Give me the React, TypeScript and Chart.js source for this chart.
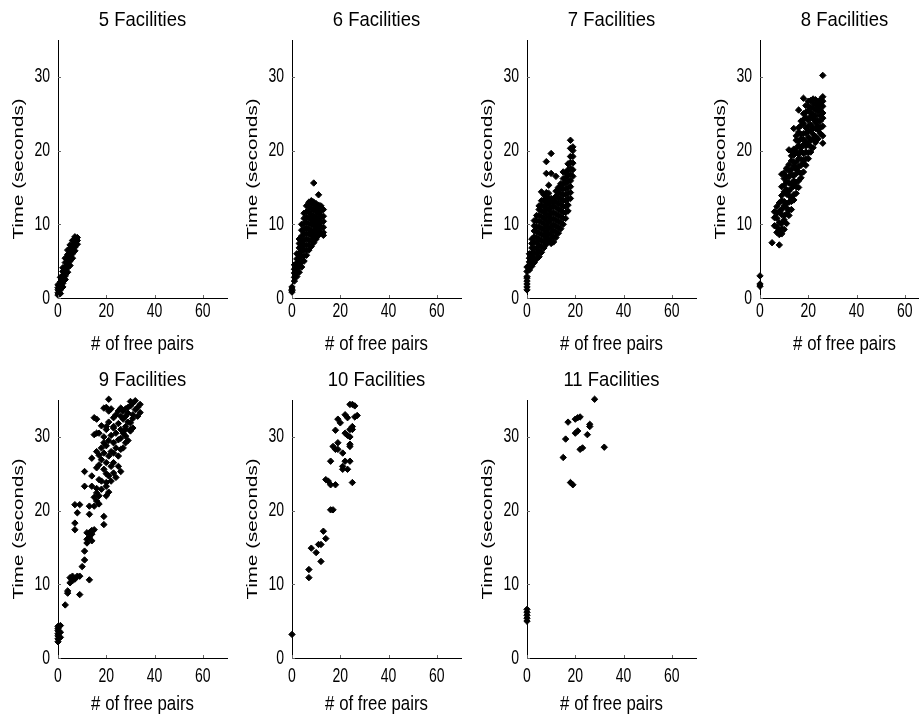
import React, { useEffect, useRef } from 'react';
import { Chart, registerables } from 'chart.js';

Chart.register(...registerables);

// ---------- data ----------
const panelTitles = ['5 Facilities', '6 Facilities', '7 Facilities', '8 Facilities', '9 Facilities', '10 Facilities', '11 Facilities'];
const xAxisTitle = '# of free pairs';
const yAxisTitle = 'Time (seconds)';
const xTickValues = [0, 20, 40, 60];
const yTickValues = [0, 10, 20, 30];
const xLimits = [0, 70];
const yLimits = [0, 35];

type Pt = [number, number];

const fac5: Pt[] = [
  [0, 0.4], [0, 0.7], [0, 1.1], [0, 1.4], [0, 1.8],
  [1, 0.6], [1, 1.1], [1, 1.7], [1, 2.2], [1, 2.8],
  [2, 1.5], [2, 2.0], [2, 2.6], [2, 3.1], [2, 3.6], [2, 4.1],
  [3, 2.5], [3, 3.0], [3, 3.6], [3, 4.2], [3, 4.8], [3, 5.4],
  [4, 3.5], [4, 4.1], [4, 4.6], [4, 5.2], [4, 5.9], [4, 6.5],
  [5, 4.4], [5, 5.0], [5, 5.6], [5, 6.1], [5, 6.7], [5, 7.2],
  [6, 5.4], [6, 6.0], [6, 6.5], [6, 7.1], [6, 7.8],
  [7, 6.4], [7, 6.9], [7, 7.5], [7, 8.0], [7, 8.3],
  [8, 7.3], [8, 7.8], [8, 8.2],
];

const fac6: Pt[] = [
  [0, 0.8], [0, 1.0], [0, 1.2], [0, 1.5],
  [1, 2.3], [1, 2.8], [1, 3.4], [1, 3.9], [1, 4.5],
  [2, 2.9], [2, 3.5], [2, 4.1], [2, 4.7], [2, 5.3], [2, 6.0],
  [3, 3.5], [3, 4.2], [3, 4.8], [3, 5.5], [3, 6.1], [3, 6.8], [3, 7.4], [3, 8.0],
  [4, 4.2], [4, 4.9], [4, 5.6], [4, 6.3], [4, 7.0], [4, 7.7], [4, 8.4], [4, 9.2], [4, 10.0],
  [5, 5.0], [5, 5.7], [5, 6.5], [5, 7.2], [5, 7.9], [5, 8.7], [5, 9.4], [5, 10.1], [5, 10.8], [5, 11.5],
  [6, 5.8], [6, 6.5], [6, 7.2], [6, 8.0], [6, 8.7], [6, 9.4], [6, 10.2], [6, 10.9], [6, 11.7], [6, 12.5],
  [7, 6.5], [7, 7.2], [7, 7.9], [7, 8.7], [7, 9.4], [7, 10.1], [7, 10.9], [7, 11.6], [7, 12.3], [7, 13.0],
  [8, 7.0], [8, 7.8], [8, 8.5], [8, 9.2], [8, 10.0], [8, 10.7], [8, 11.4], [8, 12.1], [8, 12.8], [8, 13.2],
  [9, 7.5], [9, 8.3], [9, 9.0], [9, 9.8], [9, 10.5], [9, 11.2], [9, 12.0], [9, 12.7], [9, 13.0], [9, 15.6],
  [10, 8.0], [10, 8.8], [10, 9.5], [10, 10.3], [10, 11.0], [10, 11.8], [10, 12.4], [10, 12.8],
  [11, 8.5], [11, 9.3], [11, 10.0], [11, 10.8], [11, 11.5], [11, 12.2], [11, 12.6], [11, 14.0],
  [12, 8.8], [12, 9.6], [12, 10.3], [12, 11.1], [12, 11.8], [12, 12.5],
  [13, 8.5], [13, 8.9], [13, 9.6], [13, 10.4], [13, 11.1], [13, 12.0],
];

const fac7: Pt[] = [
  [0, 1.1], [0, 1.5], [0, 1.9], [0, 2.3], [0, 2.7], [0, 2.9], [0, 3.6], [0, 4.2],
  [1, 3.8], [1, 4.3], [1, 4.9], [1, 5.4], [1, 6.0],
  [2, 4.3], [2, 4.9], [2, 5.5], [2, 6.1], [2, 6.8], [2, 7.4], [2, 8.0],
  [3, 4.8], [3, 5.4], [3, 6.1], [3, 6.8], [3, 7.6], [3, 8.3], [3, 9.1], [3, 9.8], [3, 10.5],
  [4, 5.3], [4, 6.0], [4, 6.7], [4, 7.5], [4, 8.2], [4, 9.0], [4, 9.7], [4, 10.5], [4, 11.2],
  [5, 5.6], [5, 6.4], [5, 7.2], [5, 8.0], [5, 8.8], [5, 9.6], [5, 10.4], [5, 11.2], [5, 12.0], [5, 12.5],
  [6, 6.2], [6, 7.0], [6, 7.8], [6, 8.6], [6, 9.4], [6, 10.3], [6, 11.1], [6, 11.9], [6, 12.6], [6, 13.2], [6, 14.4],
  [7, 6.8], [7, 7.6], [7, 8.4], [7, 9.2], [7, 10.0], [7, 10.9], [7, 11.7], [7, 12.5], [7, 13.3], [7, 14.0],
  [8, 7.3], [8, 8.1], [8, 8.9], [8, 9.7], [8, 10.5], [8, 11.4], [8, 12.2], [8, 13.0], [8, 13.7], [8, 14.3], [8, 16.9], [8, 18.5],
  [9, 7.8], [9, 8.6], [9, 9.4], [9, 10.2], [9, 11.0], [9, 11.9], [9, 12.7], [9, 13.5], [9, 14.2], [9, 15.3],
  [10, 7.4], [10, 8.1], [10, 8.9], [10, 9.7], [10, 10.6], [10, 11.4], [10, 12.2], [10, 13.0], [10, 13.5], [10, 16.9], [10, 19.6],
  [11, 7.6], [11, 8.4], [11, 9.2], [11, 10.0], [11, 10.8], [11, 11.6], [11, 12.4], [11, 13.0], [11, 13.5],
  [12, 8.2], [12, 9.0], [12, 9.8], [12, 10.6], [12, 11.4], [12, 12.3], [12, 13.1], [12, 13.8], [12, 14.5], [12, 16.5],
  [13, 8.8], [13, 9.6], [13, 10.4], [13, 11.2], [13, 12.0], [13, 12.8], [13, 13.6], [13, 14.3], [13, 15.0],
  [14, 9.4], [14, 10.2], [14, 11.0], [14, 11.8], [14, 12.6], [14, 13.4], [14, 14.2], [14, 14.9], [14, 15.5],
  [15, 10.0], [15, 10.8], [15, 11.6], [15, 12.4], [15, 13.2], [15, 14.0], [15, 14.8], [15, 15.5], [15, 16.2], [15, 17.1],
  [16, 10.8], [16, 11.6], [16, 12.4], [16, 13.2], [16, 14.0], [16, 14.8], [16, 15.6], [16, 16.3], [16, 17.0],
  [17, 11.8], [17, 12.6], [17, 13.4], [17, 14.2], [17, 15.0], [17, 15.8], [17, 16.6], [17, 17.4], [17, 18.2],
  [18, 13.5], [18, 14.3], [18, 15.1], [18, 15.9], [18, 16.8], [18, 17.6], [18, 18.4], [18, 19.2], [18, 20.3], [18, 21.4],
  [19, 16.5], [19, 17.4], [19, 18.3], [19, 19.2], [19, 20.0], [19, 20.5],
];

const fac8: Pt[] = [
  [0, 1.6], [0, 1.9], [0, 3.0],
  [5, 7.5], [6, 9.8], [6, 10.9], [6, 11.7],
  [7, 8.9], [7, 9.6], [7, 10.8], [7, 11.5], [7, 12.4],
  [8, 7.2], [8, 8.6], [8, 9.1], [8, 10.2], [8, 11.7], [8, 12.9],
  [9, 8.7], [9, 9.4], [9, 10.1], [9, 11.3], [9, 12.0], [9, 13.2], [9, 13.9], [9, 15.1], [9, 16.8],
  [10, 9.3], [10, 10.6], [10, 11.2], [10, 12.5], [10, 13.1], [10, 14.4], [10, 15.3], [10, 16.2], [10, 17.0],
  [11, 10.1], [11, 11.4], [11, 12.2], [11, 12.8], [11, 14.1], [11, 14.7], [11, 15.8], [11, 16.5], [11, 17.6],
  [12, 11.2], [12, 11.9], [12, 13.0], [12, 13.9], [12, 14.5], [12, 15.6], [12, 16.4], [12, 17.3], [12, 18.1], [12, 20.1],
  [13, 12.0], [13, 13.1], [13, 13.6], [13, 14.9], [13, 15.5], [13, 16.8], [13, 17.4], [13, 18.6], [13, 19.3], [13, 19.9],
  [14, 13.3], [14, 14.0], [14, 15.2], [14, 15.9], [14, 16.6], [14, 17.9], [14, 18.5], [14, 19.4], [14, 20.2], [14, 23.0],
  [15, 14.2], [15, 15.1], [15, 15.7], [15, 16.9], [15, 17.5], [15, 18.4], [15, 19.8], [15, 20.3], [15, 21.4], [15, 22.0],
  [16, 15.0], [16, 15.9], [16, 17.1], [16, 17.8], [16, 18.9], [16, 19.5], [16, 20.7], [16, 21.3], [16, 22.5], [16, 23.1], [16, 25.5],
  [17, 16.3], [17, 16.9], [17, 18.0], [17, 18.8], [17, 19.9], [17, 20.4], [17, 21.6], [17, 22.2], [17, 23.4], [17, 24.0],
  [18, 17.1], [18, 18.2], [18, 18.7], [18, 19.6], [18, 20.8], [18, 21.5], [18, 22.3], [18, 23.7], [18, 24.2], [18, 25.0], [18, 27.1],
  [19, 18.0], [19, 18.9], [19, 19.8], [19, 20.6], [19, 21.2], [19, 22.4], [19, 23.1], [19, 24.5], [19, 25.2], [19, 26.1],
  [20, 18.9], [20, 19.7], [20, 20.9], [20, 21.8], [20, 22.6], [20, 23.3], [20, 24.1], [20, 25.4], [20, 26.0], [20, 26.7],
  [21, 19.8], [21, 20.5], [21, 21.4], [21, 22.7], [21, 23.5], [21, 24.6], [21, 25.1], [21, 25.9], [21, 26.8],
  [22, 20.4], [22, 21.6], [22, 22.2], [22, 23.1], [22, 24.3], [22, 24.9], [22, 25.7], [22, 26.5], [22, 27.0],
  [23, 21.1], [23, 21.9], [23, 23.0], [23, 23.8], [23, 24.7], [23, 25.6], [23, 26.2], [23, 26.9],
  [24, 21.6], [24, 22.8], [24, 23.4], [24, 24.1], [24, 25.3], [24, 25.9], [24, 26.6],
  [25, 22.3], [25, 23.1], [25, 24.0], [25, 24.8], [25, 25.5], [25, 26.3], [25, 26.9],
  [26, 21.0], [26, 22.0], [26, 23.3], [26, 24.4], [26, 25.1], [26, 26.0], [26, 26.7], [26, 27.3], [26, 30.2],
];

const fac9: Pt[] = [
  [0, 2.2], [0, 2.6], [0, 3.0], [0, 3.3], [0, 3.7], [0, 4.0], [0, 4.3],
  [1, 2.8], [1, 3.5], [1, 4.4],
  [3, 7.2], [4, 8.8], [4, 9.1], [5, 10.2], [5, 10.9], [6, 10.5], [6, 11.1], [7, 10.7], [8, 11.1],
  [9, 11.1], [9, 8.6], [13, 10.6], [10, 12.4], [11, 13.3], [11, 14.5],
  [12, 16.1], [12, 15.6], [13, 16.4], [13, 17.0], [14, 15.9], [14, 16.8], [15, 17.4], [12, 17.0], [14, 17.3],
  [7, 17.4], [7, 18.3], [7, 20.8], [9, 20.8], [8, 19.7], [11, 23.3], [11, 25.3],
  [13, 19.5], [13, 20.6], [15, 20.6], [16, 21.3], [17, 22.0], [18, 22.9], [16, 22.4], [17, 20.9],
  [19, 19.2], [19, 18.1], [14, 23.3], [14, 24.7], [14, 27.1], [16, 28.0], [15, 32.6], [16, 32.4],
  [16, 30.5], [17, 30.5], [21, 35.1], [19, 33.9], [21, 33.5], [20, 31.0], [20, 31.4], [23, 31.4],
  [23, 32.6], [20, 26.5], [21, 27.4], [19, 29.2], [20, 23.3], [20, 23.8], [21, 24.7], [23, 25.1],
  [23, 26.5], [25, 27.4], [25, 26.0], [26, 25.3], [23, 29.2], [25, 29.6], [26, 31.0], [27, 32.4],
  [28, 32.8], [30, 34.2], [30, 34.8], [31, 34.6], [32, 33.7], [34, 34.4], [34, 33.3], [28, 31.0],
  [28, 31.4], [30, 31.0], [30, 31.9], [30, 30.8], [28, 29.2], [28, 30.1], [26, 28.3], [23, 31.2],
  [19, 25.6], [17, 24.2], [16, 25.8], [18, 26.9],
  [17, 27.5], [18, 28.5], [19, 27.8], [20, 28.8], [21, 29.5], [22, 30.2], [22, 28.0], [24, 28.5],
  [24, 30.5], [25, 31.8], [26, 32.8], [27, 33.5], [29, 33.2], [29, 34.0], [31, 33.0], [32, 34.9],
  [33, 34.0], [27, 30.5], [29, 32.0], [31, 32.5], [24, 33.0], [22, 33.8], [18, 31.5], [21, 32.0],
  [22, 26.0], [21, 22.5], [20, 22.0], [22, 24.0], [24, 24.5], [18, 24.0], [16, 23.0], [15, 21.8],
  [17, 26.2], [19, 30.0], [15, 30.3], [20, 34.0], [26, 29.8], [27, 28.5], [29, 29.5], [25, 33.5],
  [31, 31.2], [33, 32.8], [28, 33.8], [26, 33.9], [23, 27.8], [20, 25.0],
];

const fac10: Pt[] = [
  [0, 3.2], [7, 12.0], [7, 10.9], [8, 14.9], [10, 14.3], [11, 15.4], [12, 15.4], [12, 13.1],
  [13, 17.2], [14, 16.2], [16, 20.1], [17, 20.1], [14, 24.2], [15, 24.0], [16, 23.5], [18, 23.5],
  [16, 26.7], [17, 28.7], [18, 28.3], [19, 28.3], [18, 30.9], [19, 29.2], [19, 32.4], [20, 31.9],
  [21, 27.8], [21, 25.6], [21, 26.0], [22, 26.7], [22, 33.0], [23, 32.6], [22, 30.5], [23, 30.2],
  [24, 30.0], [24, 31.0], [25, 31.0], [24, 28.7], [24, 29.0], [24, 26.7], [25, 23.8], [25, 31.4],
  [25, 34.4], [26, 34.2], [24, 34.4], [26, 32.7], [27, 32.9], [23, 25.6],
];

const fac11: Pt[] = [
  [0, 5.0], [0, 5.4], [0, 5.8], [0, 6.2], [0, 6.6],
  [15, 27.2], [16, 29.7], [17, 32.0], [18, 23.8], [19, 23.5], [20, 32.4], [21, 32.6], [22, 32.7],
  [20, 30.5], [21, 30.8], [22, 28.3], [23, 28.5], [25, 30.3], [26, 31.4], [26, 31.7], [28, 35.1], [32, 28.6],
];

const panelPoints = [fac5, fac6, fac7, fac8, fac9, fac10, fac11];

// ---------- layout ----------
const AXIS_X = [58, 292, 527, 760];
const CHART_TOP = [40, 400];
const Y_BOX_W = 52;
const TITLE_H = 32;
const PLOT_W = 169;
const PLOT_H = 258;
const X_BOX_H = 70;
const PAD_R = 21;
const CANVAS_W = Y_BOX_W + PLOT_W + PAD_R;
const CANVAS_H = TITLE_H + PLOT_H + X_BOX_H;

const FONT = "'Liberation Sans', Arial, sans-serif";
const TICK_SIZE = 20;
const TITLE_SIZE = 21;
const XTITLE_SIZE = 20.5;
const YTITLE_SIZE = 20.6;
// horizontal condensing of each text kind (the reference typeface is tall and narrow)
const SQUASH: Record<string, number> = {
  [String(TICK_SIZE)]: 0.7,
  [String(TITLE_SIZE)]: 0.88,
  [String(XTITLE_SIZE)]: 0.82,
  [String(YTITLE_SIZE)]: 0.7,
};

const condensedText = {
  id: 'condensedText',
  beforeDraw(chart: any) {
    const ctx = chart.ctx as any;
    if (ctx.__condensed) return;
    const orig = ctx.fillText;
    ctx.fillText = function (text: string, x: number, y: number, maxWidth?: number) {
      const m = /([\d.]+)px/.exec(ctx.font);
      const sx = m ? SQUASH[String(parseFloat(m[1]))] ?? 1 : 1;
      if (sx === 1) {
        return maxWidth === undefined ? orig.call(ctx, text, x, y) : orig.call(ctx, text, x, y, maxWidth);
      }
      const t = ctx.getTransform();
      const p = t.transformPoint(new DOMPoint(x, y));
      ctx.save();
      ctx.setTransform(new DOMMatrix().translate(p.x, p.y).scale(sx, 1).translate(-p.x, -p.y).multiply(t));
      if (maxWidth === undefined) orig.call(ctx, text, x, y);
      else orig.call(ctx, text, x, y, maxWidth);
      ctx.restore();
    };
    ctx.__condensed = true;
  },
};

const inwardTicks = {
  id: 'inwardTicks',
  afterDraw(chart: any) {
    const { ctx, chartArea, scales } = chart;
    ctx.save();
    ctx.strokeStyle = '#666';
    ctx.lineWidth = 1;
    scales.x.ticks.forEach((t: any) => {
      const px = Math.round(scales.x.getPixelForValue(t.value)) + 0.5;
      ctx.beginPath();
      ctx.moveTo(px, chartArea.bottom);
      ctx.lineTo(px, chartArea.bottom - 3);
      ctx.stroke();
    });
    scales.y.ticks.forEach((t: any) => {
      const py = Math.round(scales.y.getPixelForValue(t.value)) + 0.5;
      ctx.beginPath();
      ctx.moveTo(chartArea.left, py);
      ctx.lineTo(chartArea.left + 3, py);
      ctx.stroke();
    });
    ctx.restore();
  },
};

function Panel({ title, points, row, col }: { title: string; points: Pt[]; row: number; col: number }) {
  const ref = useRef<HTMLCanvasElement>(null);
  useEffect(() => {
    if (!ref.current) return;
    const tickPad = row === 0 ? 1 : 6;
    const xTitlePad = 12;
    const chart = new Chart(ref.current, {
      type: 'scatter',
      data: {
        datasets: [
          {
            data: points.map(([x, y]) => ({ x, y })),
            pointStyle: 'rectRot',
            pointRadius: 3.2,
            pointBackgroundColor: '#000',
            pointBorderColor: '#000',
            pointBorderWidth: 1,
            clip: false as any,
          },
        ],
      },
      options: {
        animation: false,
        responsive: false,
        events: [],
        layout: { padding: { left: 0, right: PAD_R, top: 0, bottom: 0 } },
        plugins: {
          legend: { display: false },
          tooltip: { enabled: false },
          title: {
            display: true,
            text: title,
            color: '#000',
            fullSize: false,
            font: { family: FONT, size: TITLE_SIZE, weight: 'normal', lineHeight: '24px' as any },
            padding: { top: 0, bottom: 8 },
          },
        },
        scales: {
          x: {
            type: 'linear',
            min: xLimits[0],
            max: xLimits[1],
            afterBuildTicks: (s: any) => {
              s.ticks = xTickValues.map((v) => ({ value: v }));
            },
            afterFit: (s: any) => {
              s.height = X_BOX_H;
            },
            grid: { display: true, drawOnChartArea: false, drawTicks: false },
            border: { display: true, color: '#000', width: 1 },
            ticks: {
              color: '#000',
              padding: tickPad,
              maxRotation: 0,
              autoSkip: false,
              font: { family: FONT, size: TICK_SIZE, lineHeight: '24px' as any },
            },
            title: {
              display: true,
              text: xAxisTitle,
              color: '#000',
              font: { family: FONT, size: XTITLE_SIZE, lineHeight: '24px' as any },
              padding: { top: 0, bottom: xTitlePad },
            },
          },
          y: {
            type: 'linear',
            min: yLimits[0],
            max: yLimits[1],
            afterBuildTicks: (s: any) => {
              s.ticks = yTickValues.map((v) => ({ value: v }));
            },
            afterFit: (s: any) => {
              s.width = Y_BOX_W;
            },
            grid: { display: true, drawOnChartArea: false, drawTicks: false },
            border: { display: true, color: '#000', width: 1 },
            ticks: {
              color: '#000',
              padding: 8,
              autoSkip: false,
              font: { family: FONT, size: TICK_SIZE, lineHeight: '24px' as any },
            },
            title: {
              display: true,
              text: yAxisTitle,
              color: '#000',
              font: { family: FONT, size: YTITLE_SIZE, lineHeight: '24px' as any },
              padding: { top: 1, bottom: 0 },
            },
          },
        },
      },
      plugins: [condensedText, inwardTicks],
    } as any);
    return () => chart.destroy();
  }, [title, points, row, col]);

  const left = AXIS_X[col] - Y_BOX_W;
  const top = CHART_TOP[row] - TITLE_H;
  return (
    <canvas
      ref={ref}
      width={CANVAS_W}
      height={CANVAS_H}
      style={{ position: 'absolute', left, top, width: CANVAS_W, height: CANVAS_H }}
    />
  );
}

export default function App() {
  return (
    <div
      style={{
        position: 'fixed',
        left: 0,
        top: 0,
        width: 919,
        height: 715,
        overflow: 'hidden',
        background: '#fff',
      }}
    >
      {panelTitles.map((t, i) => (
        <Panel key={t} title={t} points={panelPoints[i]} row={i < 4 ? 0 : 1} col={i % 4} />
      ))}
    </div>
  );
}
